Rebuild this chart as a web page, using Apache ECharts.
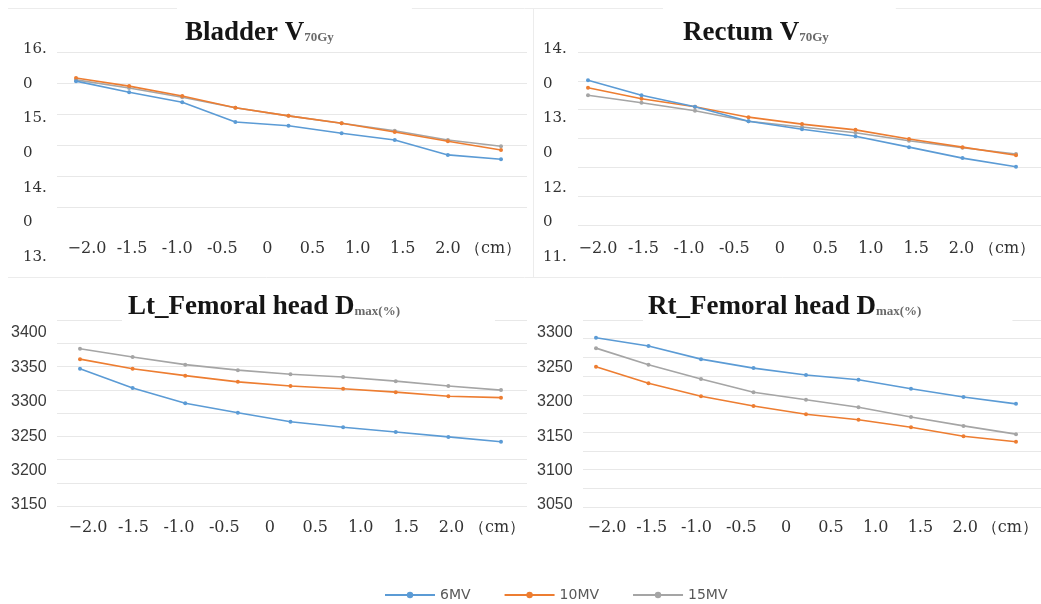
<!DOCTYPE html>
<html>
<head>
<meta charset="utf-8">
<script src="https://cdn.jsdelivr.net/npm/echarts@6/dist/echarts.min.js"></script>
<style>
  html, body { margin: 0; padding: 0; background: #fff; }
  #chart { width: 1041px; height: 604px; }
</style>
</head>
<body>
<div id="chart"></div>
<script>
// offsets (cm) of the 9 measured points
const offsets = ['-2.0', '-1.5', '-1.0', '-0.5', '0', '0.5', '1.0', '1.5', '2.0']
// tick labels as printed under each panel
const xTickLabels = ['−2.0', '-1.5', '-1.0', '-0.5', '0', '0.5', '1.0', '1.5', '2.0', '（cm）']
// wrapped y labels of the two upper panels
const bladderTicks = ['16.', '0', '15.', '0', '14.', '0', '13.']
const rectumTicks = ['14.', '0', '13.', '0', '12.', '0', '11.']

const seriesNames = ['6MV', '10MV', '15MV']
const colors = ['#5B9BD5', '#ED7D31', '#A5A5A5']

const bladder6 = [15.53, 15.35, 15.19, 14.87, 14.81, 14.69, 14.58, 14.34, 14.27]
const bladder10 = [15.58, 15.45, 15.29, 15.10, 14.97, 14.85, 14.71, 14.56, 14.42]
const bladder15 = [15.55, 15.42, 15.27, 15.10, 14.97, 14.85, 14.73, 14.58, 14.48]

const rectum6 = [13.51, 13.25, 13.05, 12.80, 12.66, 12.54, 12.35, 12.16, 12.01]
const rectum10 = [13.38, 13.19, 13.05, 12.87, 12.75, 12.65, 12.49, 12.35, 12.21]
const rectum15 = [13.25, 13.12, 12.98, 12.80, 12.70, 12.60, 12.46, 12.34, 12.23]

const ltFemoral6 = [3348, 3320, 3298, 3284, 3271, 3263, 3256, 3249, 3242]
const ltFemoral10 = [3362, 3348, 3338, 3329, 3323, 3319, 3314, 3308, 3306]
const ltFemoral15 = [3377, 3365, 3354, 3346, 3340, 3336, 3330, 3323, 3317]

const rtFemoral6 = [3293, 3281, 3262, 3249, 3239, 3232, 3219, 3207, 3197]
const rtFemoral10 = [3251, 3227, 3208, 3194, 3182, 3174, 3163, 3150, 3142]
const rtFemoral15 = [3278, 3254, 3233, 3214, 3203, 3192, 3178, 3165, 3153]

const panels = [
  {
    main: 'Bladder V', sub: '70Gy', values: [bladder6, bladder10, bladder15],
    yMin: 13.5, yMax: 16, yStep: 0.5, yTicks: bladderTicks,
    titleBox: { left: 177, top: 4, padding: [16, 78, 0, 8] },
    plot: { left: 76, top: 52, width: 425, height: 155 },
    lines: { left: 57, top: 52, width: 470, height: 155, count: 5 },
    yLab: { left: 40, top: 49, height: 208, margin: 17 },
    xLab: { left: 87, top: 230, width: 406 }
  },
  {
    main: 'Rectum V', sub: '70Gy', values: [rectum6, rectum10, rectum15],
    yMin: 11, yMax: 14, yStep: 0.5, yTicks: rectumTicks,
    titleBox: { left: 663, top: 4, padding: [16, 67, 0, 20] },
    plot: { left: 588, top: 52, width: 428, height: 173 },
    lines: { left: 578, top: 52, width: 463, height: 173, count: 6 },
    yLab: { left: 560, top: 49, height: 208, margin: 17 },
    xLab: { left: 598, top: 230, width: 409 }
  },
  {
    main: 'Lt_Femoral head D', sub: 'max(%)', values: [ltFemoral6, ltFemoral10, ltFemoral15],
    yMin: 3150, yMax: 3400, yStep: 50, yTicks: null, yMargin: 69,
    titleBox: { left: 122, top: 286, padding: [8, 95, 0, 6] },
    plot: { left: 80, top: 333, width: 421, height: 172 },
    lines: { left: 57, top: 320, width: 470, height: 186, count: 8 },
    xLab: { left: 88, top: 509, width: 409 }
  },
  {
    main: 'Rt_Femoral head D', sub: 'max(%)', values: [rtFemoral6, rtFemoral10, rtFemoral15],
    yMin: 3050, yMax: 3300, yStep: 50, yTicks: null, yMargin: 59,
    titleBox: { left: 643, top: 286, padding: [8, 91, 0, 5] },
    plot: { left: 596, top: 333, width: 420, height: 172 },
    lines: { left: 583, top: 320, width: 458, height: 187, count: 10 },
    xLab: { left: 607, top: 509, width: 410 }
  }
]

const chart = echarts.init(document.getElementById('chart'))

const grids = [], xAxes = [], yAxes = [], series = [], titles = []
const off = { show: false }

panels.forEach(p => {
  // horizontal gridlines
  grids.push({ left: p.lines.left, top: p.lines.top, width: p.lines.width, height: p.lines.height })
  let g = grids.length - 1
  xAxes.push({ gridIndex: g, type: 'value', show: false, min: 0, max: 1 })
  yAxes.push({
    gridIndex: g, type: 'value', min: 0, max: p.lines.count, interval: 1,
    axisLine: off, axisTick: off, axisLabel: off,
    splitLine: { show: true, lineStyle: { color: '#e8e8e8', width: 1 } }
  })

  // data
  grids.push({ left: p.plot.left, top: p.plot.top, width: p.plot.width, height: p.plot.height })
  g = grids.length - 1
  xAxes.push({ gridIndex: g, type: 'category', data: offsets, boundaryGap: false, show: false })
  yAxes.push({
    gridIndex: g, type: 'value', min: p.yMin, max: p.yMax, interval: p.yStep,
    axisLine: off, axisTick: off, splitLine: off,
    axisLabel: p.yTicks ? off : {
      show: true, align: 'left', margin: p.yMargin,
      formatter: v => String(v),
      color: '#3a3a3a', fontSize: 16, fontFamily: 'Liberation Sans'
    }
  })
  const dataAxis = xAxes.length - 1
  p.values.forEach((vals, k) => {
    series.push({
      type: 'line', name: seriesNames[k],
      xAxisIndex: dataAxis, yAxisIndex: dataAxis,
      data: vals,
      symbol: 'circle', symbolSize: 4,
      lineStyle: { color: colors[k], width: 1.6 },
      itemStyle: { color: colors[k] },
      z: 3 - k
    })
  })

  // x tick labels
  grids.push({ left: p.xLab.left, top: p.xLab.top, width: p.xLab.width, height: 10 })
  g = grids.length - 1
  xAxes.push({
    gridIndex: g, type: 'category', data: xTickLabels, boundaryGap: false,
    axisLine: off, axisTick: off, splitLine: off,
    axisLabel: { interval: 0, margin: 1, color: '#333', fontSize: 16, fontFamily: 'DejaVu Serif' }
  })
  yAxes.push({ gridIndex: g, type: 'value', show: false })

  // wrapped y tick labels
  if (p.yTicks) {
    grids.push({ left: p.yLab.left, top: p.yLab.top, width: 10, height: p.yLab.height })
    g = grids.length - 1
    xAxes.push({ gridIndex: g, type: 'value', show: false })
    yAxes.push({
      gridIndex: g, type: 'category', data: p.yTicks, inverse: true, boundaryGap: false,
      axisLine: off, axisTick: off, splitLine: off,
      axisLabel: { interval: 0, align: 'left', margin: p.yLab.margin, color: '#333', fontSize: 15, fontFamily: 'DejaVu Serif' }
    })
  }

  titles.push({
    left: p.titleBox.left, top: p.titleBox.top, padding: p.titleBox.padding,
    backgroundColor: '#fff',
    text: '{a|' + p.main + '}{b|' + p.sub + '}',
    textStyle: {
      rich: {
        a: { fontFamily: 'Liberation Serif', fontWeight: 'bold', fontSize: 27, color: '#151515', verticalAlign: 'bottom' },
        b: { fontFamily: 'Liberation Serif', fontSize: 13, color: '#6a6a6a', verticalAlign: 'bottom', padding: [0, 0, 3, 0] }
      }
    }
  })
})

const option = {
  backgroundColor: '#fff',
  animation: false,
  title: titles,
  graphic: [
    { type: 'line', z: -10, shape: { x1: 8, y1: 8.5, x2: 1041, y2: 8.5 }, style: { stroke: '#ececec', lineWidth: 1 } },
    { type: 'line', z: -10, shape: { x1: 533.5, y1: 8, x2: 533.5, y2: 278 }, style: { stroke: '#ececec', lineWidth: 1 } },
    { type: 'line', z: -10, shape: { x1: 8, y1: 277.5, x2: 1041, y2: 277.5 }, style: { stroke: '#ececec', lineWidth: 1 } }
  ],
  legend: {
    data: seriesNames, left: 379, top: 583,
    itemWidth: 50, itemHeight: 8, itemGap: 33,
    textStyle: { color: '#595959', fontSize: 14, fontFamily: 'DejaVu Sans' }
  },
  grid: grids,
  xAxis: xAxes,
  yAxis: yAxes,
  series: series
}

chart.setOption(option)
</script>
</body>
</html>
